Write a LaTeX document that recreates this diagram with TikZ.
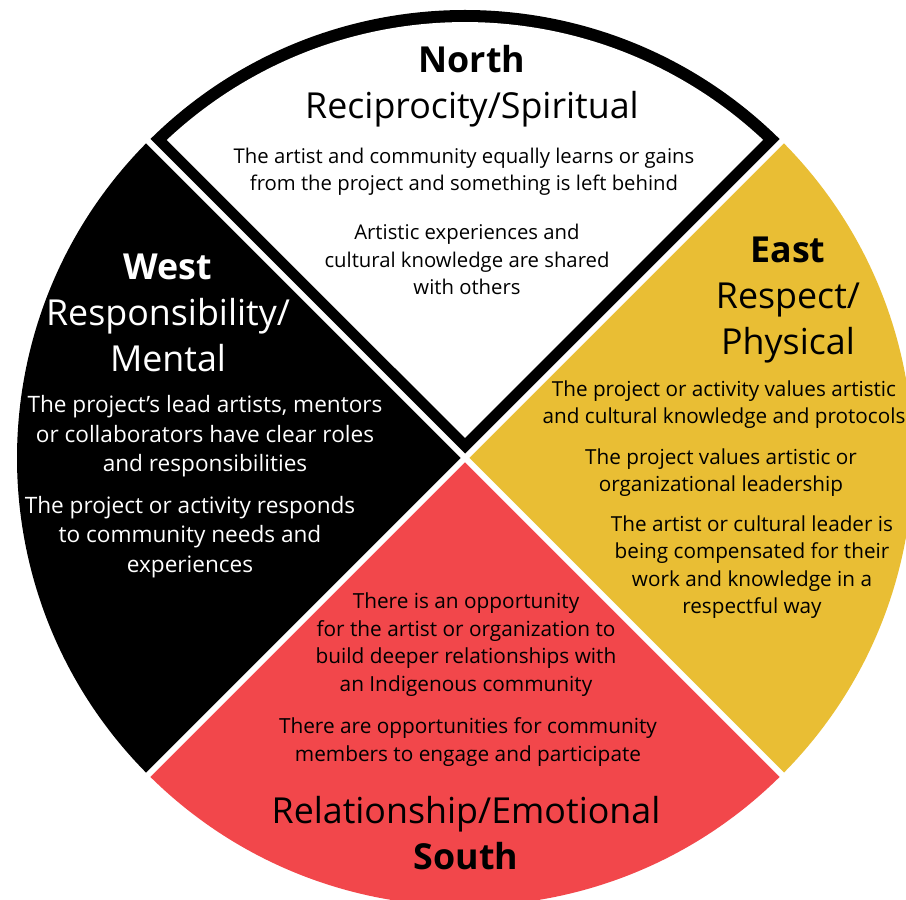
\documentclass[tikz,border=0pt]{standalone}
\usepackage{fontspec}
\setmainfont{Open Sans}
\definecolor{wheelyellow}{RGB}{233,190,52}
\definecolor{wheelred}{RGB}{242,71,75}
\tikzset{
    head/.style={align=center, inner sep=0pt, font=\fontsize{35.8}{46}\selectfont},
    body/.style={align=center, inner sep=0pt, font=\fontsize{20.3}{27.5}\selectfont},
    wbody/.style={body, text=white, font=\fontsize{22.6}{29.5}\selectfont},
    ebody/.style={body, font=\fontsize{20.7}{27.5}\selectfont},
    sbody/.style={body, font=\fontsize{20.8}{27.7}\selectfont},
    gapline/.style={white, line width=6}
}
\begin{document}
\begin{tikzpicture}[x=1pt, y=1pt]
            \clip (0,0) rectangle (906,900);
            \fill[white] (0,0) rectangle (906,900);
            \coordinate (ctr) at (465,442);

            \fill[black] (ctr) -- ++(135:448) arc[start angle=135, end angle=225, radius=448] -- cycle;
            \fill[wheelred] (ctr) -- ++(225:448) arc[start angle=225, end angle=315, radius=448] -- cycle;
            \fill[wheelyellow] (ctr) -- ++(-45:448) arc[start angle=-45, end angle=45, radius=448] -- cycle;
            \fill[black] (ctr) -- ++(45:448) arc[start angle=45, end angle=135, radius=448] -- cycle;

            \coordinate (nw) at ([shift={(135:470)}]ctr);
            \coordinate (se) at ([shift={(-45:470)}]ctr);
            \coordinate (ne) at ([shift={(45:470)}]ctr);
            \coordinate (sw) at ([shift={(225:470)}]ctr);
            \draw[gapline] (nw) -- (se);
            \draw[gapline] (ne) -- (sw);

            \coordinate (napex) at (465,462);
            \fill[white] (napex) -- (763.1,760.1) arc[start angle=46.86, end angle=133.14, radius=436] -- cycle;

            \node[head] (nhead) at (472,814) {\textbf{North}\\Reciprocity/Spiritual};
            \node[body] (nbody1) at (464,728.5) {The artist and community equally learns or gains\\from the project and something is left behind};
            \node[body] (nbody2) at (467,640.5) {Artistic experiences and\\cultural knowledge are shared\\with others};

            \node[head, text=white] (whead) at (168,587) {\textbf{West}\\Responsibility/\\Mental};
            \node[wbody] (wbody1) at (205,463.5) {The project’s lead artists, mentors\\or collaborators have clear roles\\and responsibilities};
            \node[wbody] (wbody2) at (190,363) {The project or activity responds\\to community needs and\\experiences};

            \node[head] (ehead) at (788,600) {\textbf{East}\\Respect/\\Physical};
            \node[ebody] (ebody1) at (724,495.5) {The project or activity values artistic\\and cultural knowledge and protocols};
            \node[ebody] (ebody2) at (721,427.5) {The project values artistic or\\organizational leadership};
            \node[ebody] (ebody3) at (752,333) {The artist or cultural leader is\\being compensated for their\\work and knowledge in a\\respectful way};

            \node[sbody] (sbody1) at (466,255.5) {There is an opportunity\\for the artist or organization to\\build deeper relationships with\\an Indigenous community};
            \node[sbody] (sbody2) at (468,158) {There are opportunities for community\\members to engage and participate};
            \node[head] (shead) at (466,66.5) {Relationship/Emotional\\\textbf{South}};
        \end{tikzpicture}
\end{document}
